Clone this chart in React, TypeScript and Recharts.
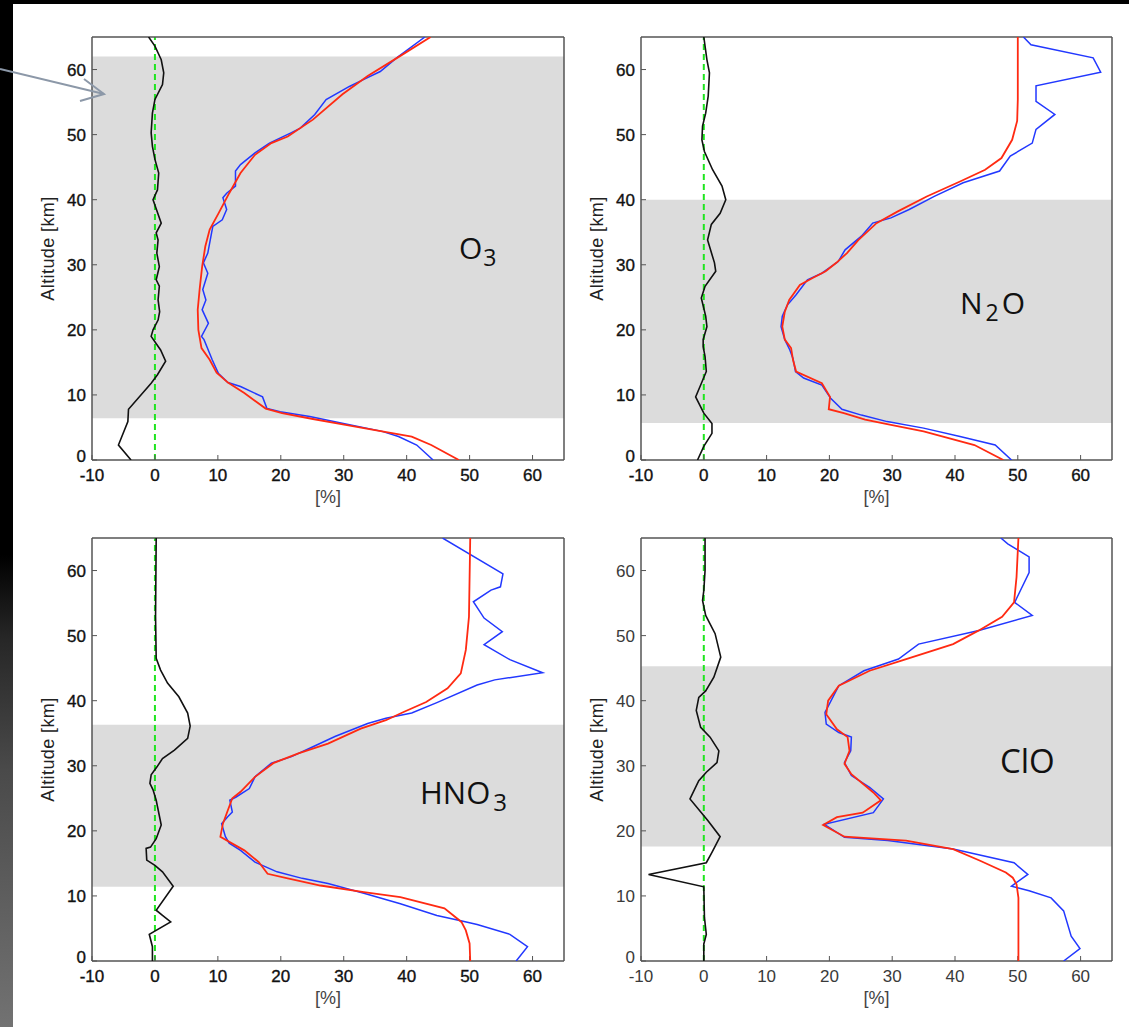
import React from 'react';
import { ScatterChart, Scatter, XAxis, YAxis, ReferenceArea, ReferenceLine } from 'recharts';

// each point is [altitude km, value %]
type Pt = [number, number];

const xTicks = [-10, 0, 10, 20, 30, 40, 50, 60];
const altTicks = [0, 10, 20, 30, 40, 50, 60];

const o3Band = [6.4, 62];
const o3Black: Pt[] = [[0,-3.8],[2.3,-5.8],[5.9,-4.3],[7.8,-4.2],[11.8,-0.6],[13.1,0.4],[15.2,1.7],[16.9,0.9],[19,-0.6],[20,-0.3],[21.5,0.5],[22.8,0.75],[24.6,0.5],[26.7,0.7],[27.7,0.2],[29.7,0.7],[31.8,0.3],[33.8,0.5],[34.9,0.2],[36.4,1.0],[40,-0.3],[41.5,0.4],[44.1,0.6],[46.2,0],[48.2,-0.4],[50.3,-0.6],[53.3,-0.4],[55.4,0],[57.7,1.2],[59.5,1.4],[61.5,1.0],[63.6,0],[65,-1.0]];
const o3Blue: Pt[] = [[0,44.2],[2.3,41.6],[3.6,38.7],[4.4,36.1],[5.4,30.9],[6.7,24.6],[7.4,19.9],[7.9,17.8],[9.7,17.1],[11.3,13.6],[11.9,11.6],[13.3,10.1],[15.4,9.1],[18.5,7.8],[19,7.4],[21,8.5],[23.1,7.5],[24.6,8.1],[26.2,7.6],[28.7,8.4],[30.3,7.7],[31.8,8.4],[34.9,9.0],[35.9,9.2],[36.9,10.7],[38.5,11.4],[40.3,10.8],[41,11.4],[42.1,12.8],[44.4,12.8],[45.4,13.6],[47.2,15.9],[48.7,18.2],[50.3,21.7],[51,23.1],[53.1,25.4],[55.4,27.2],[57.4,30.9],[58.5,33.2],[59.7,35.8],[61.8,38.4],[65,42.9]];
const o3Red: Pt[] = [[0,48.3],[2.3,43.9],[3.6,40.8],[4.4,36.1],[5.4,30.3],[6.3,25.1],[7.2,20.2],[7.9,17.6],[10.3,14.2],[11.9,11.6],[13.4,9.8],[15.4,8.7],[17.2,7.4],[20,6.9],[23.1,6.8],[26.2,7.1],[29.7,7.5],[32.8,8.0],[35.4,8.7],[37.9,10.1],[41,11.8],[44.1,13.6],[46.9,15.9],[48.7,18.5],[49.7,21.1],[52.3,25.1],[56.2,29.8],[59,33.8],[62.1,39],[65,43.8]];

const n2oBand = [5.7, 40];
const n2oBlack: Pt[] = [[0,-1.0],[2.1,0],[4.1,1.3],[5.6,1.3],[7.2,0],[9.7,-1.3],[11.3,-0.6],[13.6,0.4],[15.9,0.2],[17.4,-0.1],[18.5,-0.1],[20.5,0.5],[22.1,0.3],[24.9,-0.4],[26.7,0.2],[29,1.9],[30.3,1.7],[33.8,0.6],[36.2,1.2],[37.9,2.6],[40,3.5],[42.1,2.9],[44.6,1.4],[47.4,0.1],[49.2,-0.3],[51.3,-0.2],[53.3,0.3],[55.9,0.7],[59.5,0.9],[61.5,0.5],[65,0]];
const n2oBlue: Pt[] = [[0,49],[2.3,46.4],[3.6,40.8],[4.9,35],[5.9,29.2],[6.9,25.1],[7.8,22],[9.5,20.2],[11.5,18.8],[12.6,15.9],[13.6,14.6],[15.6,14.2],[16.9,13.7],[18.5,12.9],[20.5,12.3],[22.1,12.5],[23.8,13.3],[25.4,14.7],[27.7,16.5],[28.7,18.8],[30.5,21.4],[32.3,22.5],[34.4,25.1],[36.4,26.9],[37.2,29.8],[38.5,32.7],[40.5,36.7],[42.6,41.3],[44.4,47.1],[46.7,48.8],[48.7,52.3],[50.8,52.9],[53.1,55.9],[55.1,52.9],[57.5,52.9],[59.6,63.2],[61.8,62],[63.8,52.1],[65,50.9]];
const n2oRed: Pt[] = [[0,47.7],[2.3,43.1],[4.4,35],[5.5,29.2],[6.2,25.7],[7.2,22.3],[7.8,19.9],[9.7,20.1],[11.8,18.8],[13.6,14.7],[15.4,14.2],[17.2,13.9],[18.5,12.9],[20.5,12.5],[22.8,12.9],[24.6,13.6],[26.9,15.3],[28,17.4],[29,19.4],[30.3,21.1],[31.8,22.8],[33.8,24.6],[36.4,27.5],[38.2,30.9],[40.5,35.5],[42.8,40.8],[44.6,44.8],[46.4,47.4],[49.2,49.1],[52.1,49.9],[55.4,50],[65,50]];

const hno3Band = [11.4, 36.3];
const hno3Black: Pt[] = [[0,-0.4],[2.2,-0.4],[4.1,-0.9],[6,2.5],[7,1.2],[7.8,0.2],[11.5,2.9],[13.7,1.2],[14.7,0],[15.5,-1.3],[17.3,-1.4],[17.5,-0.7],[18.8,0.2],[20.9,1.0],[24.7,0.2],[26.3,-0.3],[27.3,-0.8],[28.6,-0.6],[29.8,0.3],[31.1,1.2],[32.4,3.1],[34.2,5.2],[36.1,5.6],[38.1,5.2],[40.6,3.8],[42.7,2.0],[44.7,0.9],[46.5,0.2],[52.9,0.1],[65,0.2]];
const hno3Blue: Pt[] = [[0,57.4],[2.2,59.2],[4.1,56.4],[5.6,51.2],[6.2,48.6],[7,44.8],[8.8,39],[10.4,33.2],[11.9,27.5],[12.7,23.4],[13.7,19.4],[15.2,15.9],[17,13.6],[18.1,11.8],[19.1,11.2],[21.1,10.6],[22.2,11.6],[22.9,12.3],[24.7,11.9],[25.2,12.9],[26.5,15.0],[28.3,15.9],[30.4,18.5],[31.4,21.7],[32.7,24.6],[34.5,28.6],[36.5,33.8],[37.3,36.7],[38.1,40.8],[39.7,44.8],[42.4,51.2],[43.2,54],[44.3,61.6],[46.3,56.4],[48.6,52.3],[50.6,55.2],[52.7,52.3],[55.2,50.6],[57,53.4],[57.5,54.9],[59.5,55.3],[65,45.7]];
const hno3Red: Pt[] = [[0,50.1],[2.7,50],[4.7,49.4],[6,48.7],[8.1,46],[9.8,39],[10.6,33.2],[11.6,26.3],[12.7,21.1],[13.4,17.9],[15.2,16.5],[17,14.2],[19.1,10.4],[21.1,10.8],[23.2,11.6],[25,12.3],[26,13.6],[28.3,15.9],[30.4,18.8],[31.9,22.8],[33.4,27.5],[35.7,32.7],[37,36.7],[38.3,39.6],[39.8,43.1],[41.9,46.5],[44.2,48.6],[47.8,49.4],[52.9,49.9],[65,50.1]];

const cloBand = [17.6, 45.3];
const cloBlack: Pt[] = [[0,0],[2.6,0],[4.1,0.4],[6.7,0.1],[11.4,0],[13.3,-8.8],[15.1,0.4],[16.7,1.3],[19.1,2.6],[21.5,0.7],[24.9,-2.2],[27.7,-0.8],[29,0.4],[30.5,2.1],[32.3,2.4],[34.4,1.0],[35.9,-0.5],[38.5,-1.2],[40.5,-0.8],[41.5,0.3],[43.6,1.6],[46.7,2.7],[50.3,1.8],[53.1,0.3],[55.4,-0.2],[56.9,0],[60,0.2],[65,0.2]];
const cloBlue: Pt[] = [[0,57.3],[1.9,59.9],[3.8,58.5],[7.7,57.3],[9.7,55.3],[10.8,51.8],[11.3,49.8],[11.5,49],[13.3,51.6],[15.1,49.4],[17.2,39.7],[18.5,29.3],[19,22.4],[21,19.2],[22.8,27],[24.9,28.6],[26.7,26.4],[28.5,23.5],[30.5,22.4],[32.3,23.4],[34.4,23.5],[35.1,21.5],[36.4,19.5],[38.2,19.3],[42.3,21.5],[44.6,25.5],[46.4,31],[48.7,34.2],[50.8,43.8],[53.1,52.3],[55.1,49.5],[59.7,51.8],[62.1,51.8],[64.1,48.4],[65,47.3]];
const cloRed: Pt[] = [[0,50.1],[9.7,50.1],[11.8,49.8],[12.8,49.2],[13.6,48.1],[15.4,44],[17.2,39.7],[18.5,32.2],[19.1,22.4],[20.9,19],[22.1,21.2],[22.8,25.3],[24.7,28.2],[25.9,27],[28.7,23.5],[30.3,22.4],[32.3,23.2],[34.4,22.9],[35.6,21.2],[37.9,19.5],[40,19.8],[42.3,21.5],[44.6,26.4],[46.2,31.6],[48.7,39.7],[50.8,43.8],[52.9,47.5],[55.1,49.4],[59,49.8],[65,50.1]];

const FONT = '"Liberation Sans", Arial, Helvetica, sans-serif';
const SPECIES_FONT = '"Open Sans", "Noto Sans", sans-serif';

const toRows = (pts: Pt[]) => pts.map(([alt, v]) => ({ alt, v }));
const noDot = () => null;

interface PanelProps {
  left: number;
  top: number;
  width: number;
  height: number;
  black: Pt[];
  blue: Pt[];
  red: Pt[];
  band: number[];
  light?: boolean;
}

function Panel({ left, top, width, height, black, blue, red, band, light }: PanelProps) {
  const ML = 70, MT = 15, MR = 15, MB = 55;
  const textFill = light ? '#3a3a3a' : '#111';
  const tick = {
    fontFamily: FONT,
    fontSize: 17,
    fill: textFill,
    stroke: light ? 'none' : '#111',
    strokeWidth: 0.35,
  };

  // the "0" altitude label sits a little higher so it clears the "-10" below it
  const yTick = (props: any) => {
    const { x, y, payload } = props;
    const shift = payload.value === 0 ? -4 : 0;
    return (
      <text x={x} y={y + shift} dy="0.355em" textAnchor="end" {...tick}>{payload.value}</text>
    );
  };

  const yLabel = (props: any) => {
    const vb = props.viewBox || { x: 0, y: 0, width: ML, height };
    const cx = vb.x + vb.width - 44;
    const cy = vb.y + vb.height / 2;
    return (
      <text x={cx} y={cy} transform={`rotate(-90 ${cx} ${cy})`} textAnchor="middle" dominantBaseline="central"
        fontFamily={FONT} fontSize={18} letterSpacing={0.4} fill="#222">Altitude [km]</text>
    );
  };
  const xLabel = (props: any) => {
    const vb = props.viewBox || { x: ML, y: MT + height, width, height: MB };
    const cx = vb.x + vb.width / 2;
    const cy = vb.y + 37;
    return (
      <text x={cx} y={cy} textAnchor="middle" dominantBaseline="central" fontFamily={FONT} fontSize={18} fill="#444">[%]</text>
    );
  };

  return (
    <div style={{ position: 'absolute', left: left - ML, top: top - MT }}>
      <ScatterChart width={width + ML + MR} height={height + MT + MB} margin={{ top: MT - 1, right: MR - 1, bottom: 0, left: 0 }}>
        <XAxis type="number" dataKey="v" domain={[-10, 65]} ticks={xTicks} allowDataOverflow height={MB}
          axisLine={{ stroke: '#555', strokeWidth: 1.5 }} tickLine={{ stroke: '#555' }} tickSize={-5} tickMargin={14}
          tick={tick} interval={0} label={{ content: xLabel }} />
        <XAxis xAxisId="top" type="number" orientation="top" domain={[-10, 65]} ticks={xTicks} allowDataOverflow height={1}
          axisLine={{ stroke: '#555', strokeWidth: 1.5 }} tickLine={{ stroke: '#555' }} tickSize={-5} tick={false} />
        <YAxis type="number" dataKey="alt" domain={[0, 65]} ticks={altTicks} allowDataOverflow width={ML}
          axisLine={{ stroke: '#555', strokeWidth: 1.5 }} tickLine={{ stroke: '#555' }} tickSize={-5} tickMargin={11}
          tick={yTick} interval={0} label={{ content: yLabel }} />
        <YAxis yAxisId="right" type="number" orientation="right" domain={[0, 65]} ticks={altTicks} allowDataOverflow width={1}
          axisLine={{ stroke: '#555', strokeWidth: 1.5 }} tickLine={{ stroke: '#555' }} tickSize={-5} tick={false} />
        <ReferenceArea x1={-10} x2={65} y1={band[0]} y2={band[1]} fill="#dcdcdc" fillOpacity={1} stroke="none" />
        <Scatter data={toRows(black)} fill="#111" line={{ stroke: '#111', strokeWidth: 1.6 }} shape={noDot} isAnimationActive={false} />
        <ReferenceLine x={0} stroke="#1ee61e" strokeWidth={2} strokeDasharray="6 4" />
        <Scatter data={toRows(blue)} fill="#2238ff" line={{ stroke: '#2238ff', strokeWidth: 1.5 }} shape={noDot} isAnimationActive={false} />
        <Scatter data={toRows(red)} fill="#ff2a12" line={{ stroke: '#ff2a12', strokeWidth: 1.8 }} shape={noDot} isAnimationActive={false} />
      </ScatterChart>
    </div>
  );
}

export default function App() {
  const sp = { fontFamily: SPECIES_FONT, fontSize: 30, fill: '#111' };
  return (
    <div style={{ position: 'relative', width: 1129, height: 1027, background: '#fff', overflow: 'hidden' }}>
      <style>{'body{margin:0}'}</style>
      <div style={{ position: 'absolute', left: 0, top: 0, width: 1129, height: 4, background: '#000' }} />
      <div style={{ position: 'absolute', left: 0, top: 0, width: 13, height: 1027,
        background: 'linear-gradient(to bottom, #000 0%, #000 54%, #262626 62%, #4a4a4a 75%, #727272 100%)' }} />
      <Panel left={92} top={37} width={472} height={423} black={o3Black} blue={o3Blue} red={o3Red} band={o3Band} />
      <Panel left={641} top={37} width={471} height={423} black={n2oBlack} blue={n2oBlue} red={n2oRed} band={n2oBand} />
      <Panel left={92} top={537.5} width={472} height={423} black={hno3Black} blue={hno3Blue} red={hno3Red} band={hno3Band} />
      <Panel left={641} top={537.5} width={471} height={423} black={cloBlack} blue={cloBlue} red={cloRed} band={cloBand} light />
      <svg width={1129} height={1027} style={{ position: 'absolute', left: 0, top: 0, pointerEvents: 'none' }}>
        <g stroke="#8c98a8" strokeWidth={2} fill="none">
          <line x1={0} y1={69} x2={104} y2={94} />
          <polyline points="84,79 104,94 80,101" />
        </g>
        <text x={459} y={259} {...sp}>O<tspan fontSize={23} dy={7} dx={1}>3</tspan></text>
        <text x={960} y={314} {...sp}>N<tspan fontSize={23} dy={7} dx={3}>2</tspan><tspan dy={-7} dx={3}>O</tspan></text>
        <text x={420} y={804} {...sp} fontSize={31}>HNO<tspan fontSize={24} dy={7} dx={3}>3</tspan></text>
        <text x={1000} y={773} {...sp} fontSize={33}>ClO</text>
      </svg>
    </div>
  );
}
